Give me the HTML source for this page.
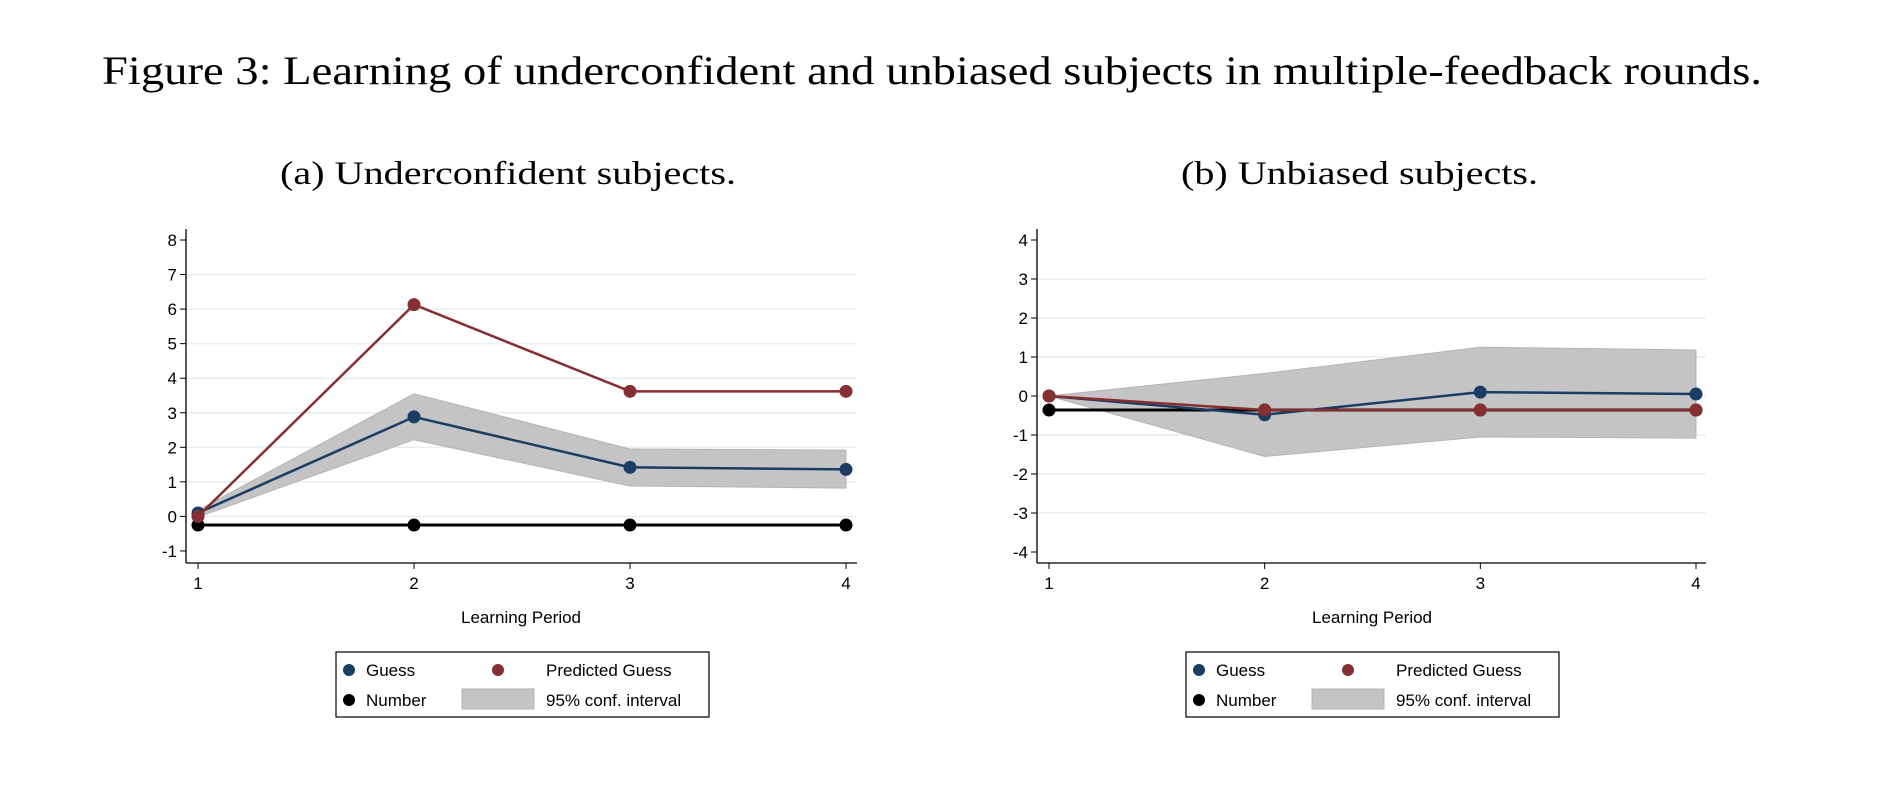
<!DOCTYPE html>
<html><head><meta charset="utf-8"><style>
body{margin:0;background:#fff;}
svg text{font-family:"Liberation Sans",Arial,sans-serif;}
.serif{font-family:"Liberation Serif","DejaVu Serif",serif;}
</style></head><body>
<svg id="fig" width="1882" height="800" viewBox="0 0 1882 800" xmlns="http://www.w3.org/2000/svg">
<text class="serif" x="102" y="84" font-size="40" textLength="1660" lengthAdjust="spacingAndGlyphs">Figure 3: Learning of underconfident and unbiased subjects in multiple-feedback rounds.</text>
<text class="serif" x="280" y="184" font-size="33" textLength="456" lengthAdjust="spacingAndGlyphs">(a) Underconfident subjects.</text>
<text class="serif" x="1181" y="184" font-size="33" textLength="357" lengthAdjust="spacingAndGlyphs">(b) Unbiased subjects.</text>
<g id="pa"></g>
<g id="pb"></g>
</svg>
<script>
const periods=[1,2,3,4];
const aGuess=[0.1,2.88,1.42,1.36];
const aPred=[0,6.13,3.62,3.62];
const aNumber=[-0.25,-0.25,-0.25,-0.25];
const aLow=[-0.02,2.22,0.88,0.82];
const aHigh=[0.18,3.55,1.95,1.92];
const aTicks=[-1,0,1,2,3,4,5,6,7,8];
const bGuess=[0,-0.48,0.1,0.05];
const bPred=[0,-0.36,-0.36,-0.36];
const bNumber=[-0.36,-0.36,-0.36,-0.36];
const bLow=[0,-1.55,-1.05,-1.08];
const bHigh=[0,0.58,1.25,1.18];
const bTicks=[-4,-3,-2,-1,0,1,2,3,4];
const NS='http://www.w3.org/2000/svg';
function mk(p,t,a){const e=document.createElementNS(NS,t);for(const k in a)e.setAttribute(k,a[k]);p.appendChild(e);return e;}
function draw(g,cfg){
 const xs=v=>cfg.x1+(v-1)*(cfg.x4-cfg.x1)/3;
 const ys=v=>cfg.y0-v*cfg.unit;
 for(const t of cfg.ticks){
  if(t!==cfg.ticks[0]&&t!==cfg.ticks[cfg.ticks.length-1]){const gl=mk(g,'line',{x1:cfg.ax+1,x2:cfg.right,y1:ys(t),y2:ys(t),stroke:'#e6eff1','stroke-width':1.5});
  
  }
  mk(g,'line',{x1:cfg.ax-6,x2:cfg.ax,y1:ys(t),y2:ys(t),stroke:'#000','stroke-width':1});
  const tl=mk(g,'text',{x:cfg.ax-9,y:ys(t)+6,'font-size':17,'text-anchor':'end'});tl.textContent=t;
  
  
 }
 let d='M'+periods.map((p,i)=>xs(p)+','+ys(cfg.hi[i])).join('L')+'L'+periods.slice().reverse().map((p,j)=>xs(p)+','+ys(cfg.lo[3-j])).join('L')+'Z';
 const band=mk(g,'path',{d:d,fill:'#c4c4c4',stroke:'#b4b4b4','stroke-width':1});
 
 
 const series=[[cfg.num,'#000','number',3],[cfg.guess,'#1a3d63','guess',2.5],[cfg.pred,'#862f33','predicted-guess',2.5]];
 for(const [vals,col,name,sw] of series){
  const ln=mk(g,'polyline',{points:periods.map((p,i)=>xs(p)+','+ys(vals[i])).join(' '),fill:'none',stroke:col,'stroke-width':sw});
  
  
  periods.forEach((p,i)=>{const c=mk(g,'circle',{cx:xs(p),cy:ys(vals[i]),r:6.5,fill:col});
   
   });
 }
 mk(g,'line',{x1:cfg.ax,x2:cfg.ax,y1:229,y2:563,stroke:'#000','stroke-width':1.3});
 mk(g,'line',{x1:cfg.ax,x2:cfg.right,y1:563,y2:563,stroke:'#000','stroke-width':1.3});
 periods.forEach(p=>{mk(g,'line',{x1:xs(p),x2:xs(p),y1:563,y2:569,stroke:'#000'});
  const t=mk(g,'text',{x:xs(p),y:589,'font-size':17,'text-anchor':'middle'});t.textContent=p;
  
  });
 const xt=mk(g,'text',{x:cfg.xtc,y:623,'font-size':17,'text-anchor':'middle'});xt.textContent='Learning Period';
 
 
 const L=cfg.lx;
 const box=mk(g,'rect',{x:L,y:652,width:373,height:65,fill:'#fff',stroke:'#000','stroke-width':1.2});
 
 
 const items=[[13,670,'#1a3d63','Guess'],[162,670,'#862f33','Predicted Guess'],[13,700,'#000','Number']];
 for(const [dx,y,col,lab] of items){
  mk(g,'circle',{cx:L+dx,cy:y,r:6,fill:col});
  const t=mk(g,'text',{x:L+(lab==='Predicted Guess'?210:30),y:y+6,'font-size':17});t.textContent=lab;
  
  
 }
 mk(g,'rect',{x:L+126,y:689,width:72,height:20,fill:'#c4c4c4',stroke:'#b4b4b4'});
 const t=mk(g,'text',{x:L+210,y:706,'font-size':17});t.textContent='95% conf. interval';
 
 
}
draw(document.getElementById('pa'),{x1:198,x4:846,ax:186,right:857,y0:516.4,unit:34.55,ticks:aTicks,guess:aGuess,pred:aPred,num:aNumber,lo:aLow,hi:aHigh,lx:336,xtc:521});
draw(document.getElementById('pb'),{x1:1049,x4:1696,ax:1037,right:1706,y0:396,unit:39,ticks:bTicks,guess:bGuess,pred:bPred,num:bNumber,lo:bLow,hi:bHigh,lx:1186,xtc:1372});
</script>
</body></html>
